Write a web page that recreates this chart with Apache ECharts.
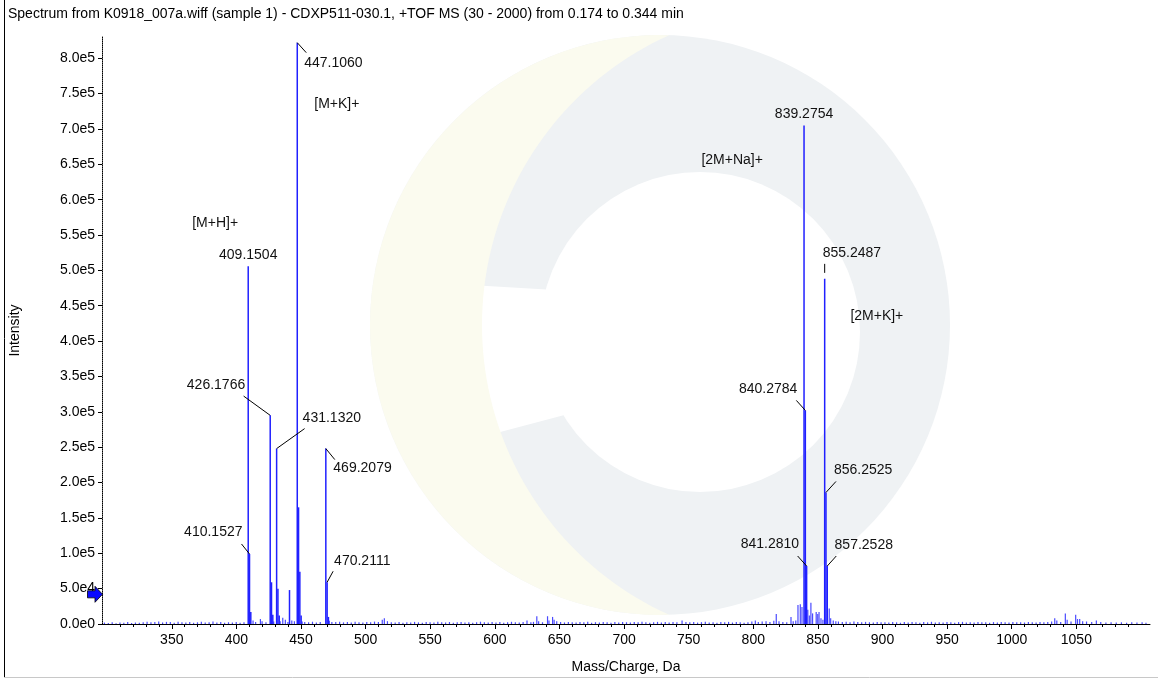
<!DOCTYPE html>
<html><head><meta charset="utf-8">
<script src="https://cdn.jsdelivr.net/npm/echarts@6/dist/echarts.min.js"></script>
<style>html,body{margin:0;padding:0;background:#fff}#c{width:1158px;height:679px}</style>
</head><body><div id="c"></div>
<script>
const titleText = 'Spectrum from K0918_007a.wiff (sample 1) - CDXP511-030.1, +TOF MS (30 - 2000) from 0.174 to 0.344 min';
const xName = 'Mass/Charge, Da';
const yName = 'Intensity';
const xTickValues = [350,400,450,500,550,600,650,700,750,800,850,900,950,1000,1050];
const yTickValues = [0,50000,100000,150000,200000,250000,300000,350000,400000,450000,500000,550000,600000,650000,700000,750000,800000];

// main peaks (m/z, intensity)
const peakMz  = [409.1504,410.1527,411.15,426.1766,427.18,428.18,431.1320,432.14,433.13,441.10,447.1060,448.11,449.10,450.10,469.2079,470.2111,471.21,839.2754,840.2784,841.2810,855.2487,856.2525,857.2528];
const peakInt = [506000,99000,17000,295000,59000,13000,248000,50000,12000,48000,822000,165000,74000,12000,248000,59000,10000,705000,302000,82000,488000,186000,82000];

// small peaks / baseline (m/z, intensity)
const noisePeaks = [
[298,2000],[301,1500],[304,2500],[307,1200],[310,2200],[313,1800],[316,3000],[319,1400],[322,2100],[325,1600],[328,2600],[331,3200],[334,2400],[337,2800],[340,3500],[343,2200],[346,3000],[349,2700],[352,1900],[355,3300],[358,2500],[361,2000],[364,2900],[367,1700],[370,2400],[373,3100],[376,2000],[379,2600],[382,3400],[385,2200],[388,2800],[391,1900],[394,2500],[397,2100],[400,2800],[403,1800],[406,2300],
[413,5000],[415,3000],[418.7,7000],[420,4000],[423,2500],[429,3500],[434,4000],[436,9000],[438,6000],[440,3000],[443,5000],[445,4000],[451,3500],[453,3000],[456,2500],[459,3200],[462,2200],[465,3000],
[472,4500],[474,3000],[477,2800],[480,3200],[483,2300],[486,2900],[489,2000],[492,3100],[495,2500],[498,2200],[501,3000],[504,2600],[507,3400],[510,2800],[513,6000],[514.6,8000],[517,4000],[520,2500],[523,2200],[526,2900],[529,1800],[532,2600],[535,2100],[538,3000],[541,2300],[544,1900],[547,2700],[550,2400],[553,2000],[556,3100],[559,2500],[562,2200],[565,2800],[568,1700],[571,2400],[574,3000],[577,2100],[580,2600],[583,1900],[586,2500],[589,3200],[592,2300],[595,2000],[598,2800],[601,2200],[604,2700],[607,1800],[610,2500],[613,3100],[616,2400],[619,2000],[622,3000],[625,5000],[628,2600],[630,3000],[632.6,11000],[634,4000],[637,2500],[640.9,11000],[642,5000],[644.8,10000],[646,6000],[648,4000],
[651,2800],[654,2200],[657,3000],[660,2400],[663,2000],[666,2700],[669,2300],[672,3200],[675,1900],[678,2600],[681,2100],[684,2900],[687,2400],[690,1800],[693,2700],[696,2200],[699,3000],[702,2500],[705,2000],[708,2800],[711,2300],[714,3100],[717,2600],[720,1900],[723,2500],[726,3000],[729,2200],[732,2700],[735,2000],[738,2900],[741,2400],[745,5000],[748,3000],[751,2300],[754,2800],[757,2000],[760,2600],[763,3100],[766,2200],[769,2500],[772,1900],[775,2800],[778,2300],[781,3000],[784,2100],[787,2700],[790,2400],[793,1900],[796,2600],[799,3500],[801.7,5000],[804,3000],[807,3500],[810,4000],[813,3000],[816,4500],[817.9,14000],[820,4000],[823,3000],[826,2500],[829.3,10000],[831,4000],[833,5000],[834.7,27000],[836.5,28000],[837.8,24000],[842.3,20000],[843.5,12000],[844.7,30000],[846,15000],[848.8,17000],[850,14000],[851,17000],[852.5,8000],[854,6000],[858.9,22000],[860,8000],[862,5000],[864,4000],[866,3500],
[869,3000],[872,3200],[875,2600],[878,3400],[881,2800],[884,2300],[887,3000],[890,2500],[893,2100],[896,2800],[899,2300],[902,2600],[905,2000],[908,2900],[911,2400],[914,1800],[917,2700],[920,2200],[923,3000],[926,2500],[929,1900],[932,2800],[935,2300],[938,3100],[941,2000],[944,2600],[947,2200],[950,2900],[953,2400],[956,1800],[959,2700],[962,3000],[965,2200],[968,2600],[971,2000],[974,2800],[977,2300],[980,2500],[983,1900],[986,2700],[989,2200],[992,3000],[995,2400],[998,2000],[1001,2800],[1004,2300],[1007,2600],[1010,2100],[1013,3000],[1016,2500],[1019,2000],[1022,2800],[1025,2400],[1028,3000],[1031,3500],[1033.4,8000],[1035,5000],[1038,3000],[1041.6,15000],[1043,6000],[1046,3500],[1049.6,13000],[1051,7000],[1052.7,7000],[1055,4000],[1058,3500],[1062,3000],[1065.6,5000],[1069,2800],[1073,2200],[1077,2600],[1081,2000],[1085,2400],[1089,1800],[1093,2500],[1097,2100],[1101,2300],[1104,1900]
];

// annotated peaks (label text = m/z) and ion labels attached to peaks
const peakLabels = ['447.1060','409.1504','426.1766','431.1320','469.2079','410.1527','470.2111','839.2754','855.2487','840.2784','856.2525','841.2810','857.2528'];
const ionLabels = ['[M+H]+','[M+K]+','[2M+Na]+','[2M+K]+'];
const ionPeaks  = [409.1504, 447.1060, 839.2754, 855.2487];
const thresholdLevel = 42000;

// ---------- layout / style (pixel offsets relative to peak top) ----------
const labelLayout = {
  '447.1060': {line:[0,0,9,10],  t:[7,20],    a:'left'},
  '409.1504': {line:null,        t:[0,-11],   a:'center'},
  '426.1766': {line:[0,0,-26.6,-19.3], t:[-25,-30], a:'right'},
  '431.1320': {line:[0,0,28,-20], t:[26,-30], a:'left'},
  '469.2079': {line:[0,0,9,11],  t:[7.5,20],  a:'left'},
  '410.1527': {line:[0,0,-8,-10], t:[-7,-22], a:'right'},
  '470.2111': {line:[0,0,6,-11], t:[7,-21],   a:'left'},
  '839.2754': {line:null,        t:[0,-11],   a:'center'},
  '855.2487': {line:[0,-15,0,-6], t:[-2,-26], a:'left'},
  '840.2784': {line:[0,0,-9,-10], t:[-8,-21], a:'right'},
  '856.2525': {line:[0,0,10,-11], t:[8,-22],  a:'left'},
  '841.2810': {line:[0,0,-9,-10], t:[-7.6,-22], a:'right'},
  '857.2528': {line:[0,0,9,-10], t:[7.3,-21], a:'left'},
  '[M+H]+':   {line:null, t:[-56,-43],  a:'left'},
  '[M+K]+':   {line:null, t:[17,61],    a:'left'},
  '[2M+Na]+': {line:null, t:[-102.6,35], a:'left'},
  '[2M+K]+':  {line:null, t:[25.7,37],  a:'left'}
};

function intensityAt(mz){
  const i = peakMz.findIndex(v => Math.abs(v - mz) < 1e-6);
  return peakInt[i];
}
const annoTexts = peakLabels.concat(ionLabels);
const annoData = peakLabels.map(s => [parseFloat(s), intensityAt(parseFloat(s))])
  .concat(ionPeaks.map(m => [m, intensityAt(m)]));

const mainData = peakMz.map((m,i) => [m, peakInt[i]]);

const xMinorTicks = [];
for (let v = 300; v <= 1100; v += 10) if (v % 50 !== 0) xMinorTicks.push(v);

// background logo crescent (decorative) as polygon
function crescent(c1, r1, c2, r2){
  const cy = c1[1];
  const xi = ((r1*r1 - r2*r2) - (c1[0]*c1[0] - c2[0]*c2[0])) / (2*(c2[0]-c1[0]));
  const dy = Math.sqrt(r1*r1 - (xi-c1[0])*(xi-c1[0]));
  const a1 = Math.atan2(-dy, xi-c1[0]), a1b = Math.atan2(dy, xi-c1[0]);
  const a2 = Math.atan2(dy, xi-c2[0]), a2b = Math.atan2(-dy, xi-c2[0]) + 2*Math.PI;
  const pts = [];
  const n = 80;
  const s1 = a1 + 2*Math.PI, e1 = a1b;
  for (let k=0;k<=n;k++){ const t = s1 + (e1 - s1)*k/n; pts.push([c1[0]+r1*Math.cos(t), cy+r1*Math.sin(t)]); }
  for (let k=0;k<=n;k++){ const t = a2 + (a2b - a2)*k/n; pts.push([c2[0]+r2*Math.cos(t), cy+r2*Math.sin(t)]); }
  return pts;
}
const crescentPts = crescent([660,325], 290, [800,325], 318);

const FONT = '"Liberation Sans", Arial, sans-serif';
const fmtExp = v => v.toExponential(1).replace('+','');

const chart = echarts.init(document.getElementById('c'), null, {renderer:'canvas'});

const option = {
  animation: false,
  backgroundColor: '#fff',
  textStyle: {fontFamily: FONT},
  title: {text: titleText, left: 3, top: 2, textStyle: {fontSize: 14, fontWeight: 'normal', color: '#000', fontFamily: FONT}},
  graphic: [
    {type:'circle', z:-10, silent:true, shape:{cx:660, cy:325, r:290}, style:{fill:'#eff2f4'}},
    {type:'polygon', z:-9, silent:true, shape:{points:[[470,285],[640,295],[640,395],[470,440]]}, style:{fill:'#ffffff'}},
    {type:'circle', z:-9, silent:true, shape:{cx:700, cy:332, r:160}, style:{fill:'#ffffff'}},
    {type:'polygon', z:-8, silent:true, shape:{points: crescentPts}, style:{fill:'#fbfbef'}},
    {type:'line', silent:true, shape:{x1:4.5, y1:0, x2:4.5, y2:677}, style:{stroke:'#000', lineWidth:1}},
    {type:'line', silent:true, shape:{x1:4, y1:677.5, x2:1158, y2:677.5}, style:{stroke:'#c8c8c8', lineWidth:1}}
  ],
  grid: {left: 100, right: 8, top: 37, bottom: 54, containLabel: false},
  xAxis: [{
    type: 'value', min: 296, max: 1107, position: 'bottom',
    name: xName, nameLocation: 'middle', nameGap: 36,
    nameTextStyle: {fontSize: 14, color: '#000', fontFamily: FONT},
    axisLine: {show: true, lineStyle: {color: '#000', width: 1}},
    axisTick: {show: true, length: 5, lineStyle: {color: '#000'}, customValues: xTickValues},
    axisLabel: {fontSize: 14, color: '#000', margin: 9, customValues: xTickValues, fontFamily: FONT, formatter: v => String(v)},
    splitLine: {show: false}
  },{
    type: 'value', min: 296, max: 1107, position: 'bottom',
    axisLine: {show: false},
    axisTick: {show: true, length: 3, lineStyle: {color: '#000'}, customValues: xMinorTicks},
    axisLabel: {show: false, customValues: xMinorTicks},
    splitLine: {show: false}
  }],
  yAxis: {
    type: 'value', min: 0, max: 830000,
    name: yName, nameLocation: 'middle', nameGap: 80,
    nameTextStyle: {fontSize: 14, color: '#000', fontFamily: FONT},
    axisLine: {show: true, lineStyle: {color: '#000', width: 1, type: 'dotted'}},
    axisTick: {show: true, length: 4, lineStyle: {color: '#000'}, customValues: yTickValues},
    axisLabel: {fontSize: 14, color: '#000', margin: 7, formatter: fmtExp, customValues: yTickValues, fontFamily: FONT},
    splitLine: {show: false}
  },
  series: [
    {
      type: 'bar', name: 'baseline', xAxisIndex: 0, data: noisePeaks,
      barWidth: 1.2, barGap: '-100%', itemStyle: {color: '#4b4bff'}, silent: true, z: 2
    },
    {
      type: 'bar', name: 'peaks', xAxisIndex: 0, data: mainData,
      barWidth: 1.5, barGap: '-100%', itemStyle: {color: '#2020ff'}, silent: true, z: 3,
      markPoint: {
        silent: true,
        data: [{coord: [296, thresholdLevel]}],
        symbol: 'path://M0,5L9,5L9,0L18,9L9,18L9,13L0,13Z',
        symbolSize: [15, 16], symbolOffset: [-7, 0],
        itemStyle: {color: '#0a0aff', borderColor: '#000', borderWidth: 0.8},
        label: {show: false}
      }
    },
    {
      type: 'custom', name: 'annotations', xAxisIndex: 0, data: annoData, z: 5, silent: true, clip: false,
      encode: {x: 0, y: 1},
      renderItem: function(params, api){
        const i = params.dataIndex;
        const txt = annoTexts[i];
        const L = labelLayout[txt];
        const p = api.coord([api.value(0), api.value(1)]);
        const ch = [];
        if (L.line) ch.push({type:'line', shape:{x1:p[0]+L.line[0], y1:p[1]+L.line[1], x2:p[0]+L.line[2], y2:p[1]+L.line[3]}, style:{stroke:'#000', lineWidth:1}});
        ch.push({type:'text', style:{text: txt, x: p[0]+L.t[0], y: p[1]+L.t[1], align: L.a, verticalAlign: 'middle', fontSize: 14, fontFamily: FONT, fill: '#111'}});
        return {type:'group', children: ch};
      }
    }
  ]
};
chart.setOption(option);
</script>
</body></html>
